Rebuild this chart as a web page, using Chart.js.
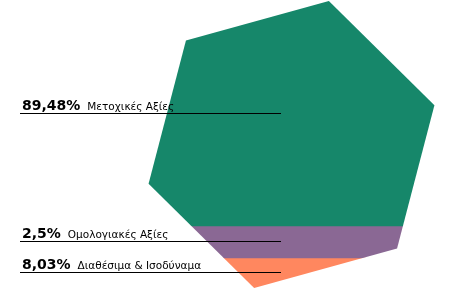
<!DOCTYPE html>
<html>
<head>
<meta charset="utf-8">
<script src="https://cdn.jsdelivr.net/npm/chart.js@4"></script>
<style>
  html, body { margin: 0; padding: 0; background: #fff; }
  #wrap { width: 465px; height: 290px; }
</style>
</head>
<body>
<div id="wrap"><canvas id="pyr" width="465" height="290"></canvas></div>
<script>
// categories, top to bottom
const names = ['Μετοχικές Αξίες', 'Ομολογιακές Αξίες', 'Διαθέσιμα & Ισοδύναμα'];
const shares = ['89,48%', '2,5%', '8,03%'];
// how much of the shape's height each band takes (in %)
const bandHeights = [78.4, 11.1, 10.5];
const colors = ['#16876a', '#8a6894', '#ff875f'];

// clip the stacked bar into a tilted hexagon
const hexClip = {
    id: 'hexClip',
    beforeDatasetsDraw(chart) {
        const a = chart.chartArea;
        const ctx = chart.ctx;
        const cx = (a.left + a.right) / 2;
        const cy = (a.top + a.bottom) / 2;
        const r = (a.bottom - a.top) / (2 * 0.968);
        ctx.save();
        ctx.beginPath();
        for (let i = 0; i < 6; i++) {
            const ang = (-75.4 + i * 60) * Math.PI / 180;
            const x = cx + r * Math.cos(ang);
            const y = cy + r * Math.sin(ang);
            if (i == 0) ctx.moveTo(x, y); else ctx.lineTo(x, y);
        }
        ctx.closePath();
        ctx.clip();
    },
    afterDatasetsDraw(chart) {
        chart.ctx.restore();
    }
};

// leader lines + labels on the left
const sideLabels = {
    id: 'sideLabels',
    afterDraw(chart) {
        const ctx = chart.ctx;
        ctx.save();
        chart.data.datasets.forEach(function(ds, i) {
            const bar = chart.getDatasetMeta(i).data[0];
            const y = Math.floor((bar.y + bar.base) / 2) + 0.5;
            ctx.strokeStyle = '#000';
            ctx.lineWidth = 1;
            ctx.beginPath();
            ctx.moveTo(20, y);
            ctx.lineTo(281, y);
            ctx.stroke();
            ctx.fillStyle = '#000';
            ctx.textBaseline = 'alphabetic';
            ctx.font = 'bold 14px "DejaVu Sans"';
            ctx.fillText(shares[i], 22, y - 4);
            const w = ctx.measureText(shares[i]).width;
            ctx.font = '10.5px "DejaVu Sans"';
            ctx.fillText(names[i], 22 + w + 7, y - 4);
        });
        ctx.restore();
    }
};

new Chart(document.getElementById('pyr').getContext('2d'), {
    type: 'bar',
    data: {
        labels: [''],
        datasets: names.map(function(n, i) {
            return {
                label: n,
                data: [bandHeights[i]],
                backgroundColor: colors[i],
                borderWidth: 0,
                barPercentage: 1,
                categoryPercentage: 1
            };
        })
    },
    options: {
        responsive: false,
        animation: false,
        layout: { padding: { left: 148, right: 30, top: 1, bottom: 2 } },
        plugins: { legend: { display: false }, tooltip: { enabled: false } },
        scales: {
            x: { stacked: true, display: false },
            y: { stacked: true, display: false, min: 0, max: 100, reverse: true }
        }
    },
    plugins: [hexClip, sideLabels]
});
</script>
</body>
</html>
